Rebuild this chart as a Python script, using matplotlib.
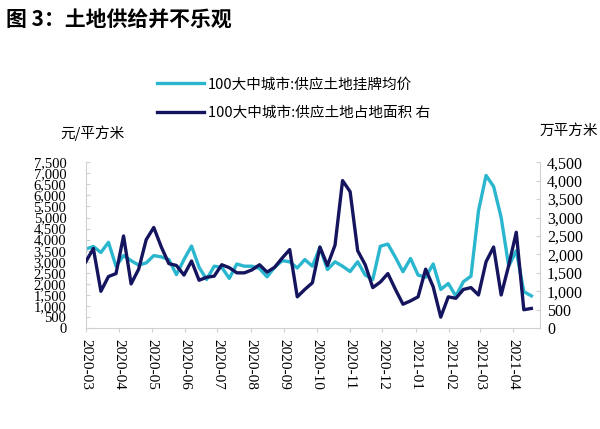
import pandas as pd
import numpy as np
import matplotlib
matplotlib.use('Agg')
import matplotlib.pyplot as plt
import matplotlib.dates as mdates

# weekly data, 2020-03-01 .. 2021-04-18
weeks = pd.date_range('2020-03-01', periods=60, freq='7D')

# 100大中城市:供应土地挂牌均价 (元/平方米, left axis)
price = [3575, 3690, 3420, 3880, 2800, 3280, 3050, 2850, 2950, 3280,
         3220, 3100, 2420, 3100, 3710, 2750, 2200, 2800, 2750, 2250,
         2900, 2800, 2800, 2700, 2320, 2750, 3050, 3000, 2720, 3100,
         2800, 3650, 2650, 3000, 2800, 2560, 3000, 2400, 2200, 3700,
         3800, 3200, 2550, 3150, 2400, 2300, 2900, 1750, 2020, 1450,
         2100, 2350, 5300, 6900, 6400, 5000, 2800, 3500, 1650, 1460]

# 100大中城市:供应土地占地面积 (万平方米, right axis)
area = [1800, 2160, 1000, 1400, 1480, 2500, 1200, 1600, 2400, 2730,
        2200, 1750, 1700, 1440, 1820, 1300, 1380, 1410, 1720, 1640,
        1500, 1500, 1580, 1720, 1520, 1650, 1900, 2130, 850, 1050,
        1230, 2200, 1700, 2250, 4000, 3700, 2100, 1720, 1100, 1250,
        1480, 1050, 650, 740, 850, 1600, 1120, 300, 850, 810,
        1050, 1100, 900, 1800, 2200, 900, 1700, 2600, 500, 535]

label1 = '100大中城市:供应土地挂牌均价'
label2 = '100大中城市:供应土地占地面积 右'

cjk = ['Noto Sans CJK SC', 'DejaVu Sans']
serif = 'Liberation Serif'
c_light = '#2bb6cf'
c_dark = '#15145e'
grey = '#d0d0d0'

fig = plt.figure(figsize=(6, 4.29), dpi=100)
ax = fig.add_axes([0.143, 0.235, 0.757, 0.387])
ax2 = ax.twinx()

l1, = ax.plot(weeks, price, color=c_light, lw=2.4, solid_joinstyle='round')
l2, = ax2.plot(weeks, area, color=c_dark, lw=2.4, solid_joinstyle='round')

ax.set_xlim(pd.Timestamp('2020-03-01'), pd.Timestamp('2021-04-26'))
ax.set_ylim(0, 7500)
ax2.set_ylim(0, 4500)
ax.set_yticks(np.arange(0, 7501, 500))
ax2.set_yticks(np.arange(0, 4501, 500))
ax.yaxis.set_major_formatter(matplotlib.ticker.StrMethodFormatter('{x:,.0f}'))
ax2.yaxis.set_major_formatter(matplotlib.ticker.StrMethodFormatter('{x:,.0f}'))

ax.xaxis.set_major_locator(mdates.MonthLocator())
ax.xaxis.set_major_formatter(mdates.DateFormatter('%Y-%m'))
for lab in ax.get_xticklabels():
    lab.set_rotation(270)
    lab.set_family(serif)
    lab.set_fontsize(11)

for a in (ax, ax2):
    for s in a.spines.values():
        s.set_visible(False)
    a.tick_params(axis='both', colors=grey, length=3, width=0.8, labelcolor='black')
for lab in ax.get_yticklabels():
    lab.set_family(serif)
    lab.set_fontsize(10.5)
for lab in ax2.get_yticklabels():
    lab.set_family(serif)
    lab.set_fontsize(11.5)
ax.spines['left'].set_visible(True)
ax.spines['left'].set_color(grey)
ax.spines['bottom'].set_visible(True)
ax.spines['bottom'].set_color(grey)
ax2.spines['right'].set_visible(True)
ax2.spines['right'].set_color(grey)
ax.tick_params(axis='y', direction='in', pad=14)
ax2.tick_params(axis='y', direction='in', pad=5)
ax.tick_params(axis='x', pad=5)

fig.text(0.1, 0.69, '元/平方米', family=cjk, fontsize=10.5, va='center')
fig.text(0.9, 0.695, '万平方米', family=cjk, fontsize=10.5, va='center')
fig.text(0.01, 0.953, '图 3：土地供给并不乐观', family=cjk, fontsize=15,
         fontweight='bold', va='center')

fig.legend([l1, l2], [label1, label2], loc='center left',
           bbox_to_anchor=(0.24, 0.77), frameon=False, handlelength=3.2,
           handletextpad=0.3, labelspacing=1.0, prop={'family': cjk, 'size': 10.5})

fig.savefig('out.png', dpi=100)
